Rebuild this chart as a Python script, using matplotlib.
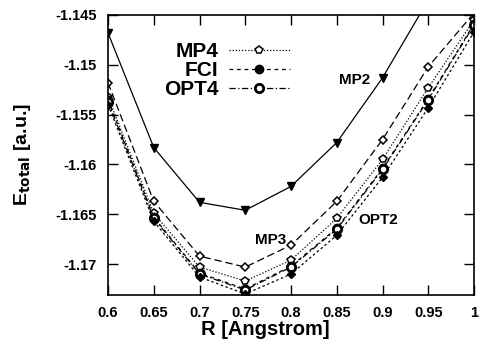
import numpy as np
import matplotlib
matplotlib.use("Agg")
import matplotlib.pyplot as plt

plt.rcParams['font.family'] = ['Liberation Sans', 'DejaVu Sans']
plt.rcParams['font.weight'] = 'bold'
plt.rcParams['mathtext.default'] = 'bf'

# Data
R = [0.6, 0.65, 0.7, 0.75, 0.8, 0.85, 0.9, 0.95, 1.0]
mp2 = [-1.1468, -1.1583, -1.1638, -1.1646, -1.1622, -1.1578, -1.1513, -1.1435, -1.1350]
mp3 = [-1.1518, -1.1637, -1.1692, -1.1703, -1.1681, -1.1637, -1.1575, -1.1502, -1.1448]
mp4 = [-1.1532, -1.1649, -1.1703, -1.1717, -1.1696, -1.1654, -1.1595, -1.1523, -1.1455]
fci = [-1.1535, -1.1653, -1.1709, -1.1725, -1.1702, -1.1664, -1.1604, -1.1534, -1.1459]
opt4 = [-1.1537, -1.1654, -1.1710, -1.1726, -1.1703, -1.1665, -1.1605, -1.1535, -1.1460]
opt2 = [-1.1540, -1.1657, -1.1713, -1.1730, -1.1710, -1.1671, -1.1613, -1.1543, -1.1467]

xticks = [0.6, 0.65, 0.7, 0.75, 0.8, 0.85, 0.9, 0.95, 1.0]
xtick_labels = ["0.6", "0.65", "0.7", "0.75", "0.8", "0.85", "0.9", "0.95", "1"]
yticks = [-1.17, -1.165, -1.16, -1.155, -1.15, -1.145]
ytick_labels = ["-1.17", "-1.165", "-1.16", "-1.155", "-1.15", "-1.145"]

fig = plt.figure(figsize=(4.79, 3.47), dpi=100)
ax = fig.add_axes([0.2255, 0.1499, 0.7641, 0.8069])

lw = 0.9
ax.plot(R, mp2, color="black", lw=lw, ls="-", marker="v", ms=5.5,
        mfc="black", mec="black")
ax.plot(R, mp3, color="black", lw=lw, ls=(0, (6, 3)), marker="D", ms=4.5,
        mfc="white", mec="black", mew=1.1)
ax.plot(R, mp4, color="black", lw=lw, ls=(0, (1, 1.5)), marker="p", ms=6,
        mfc="white", mec="black", mew=1.1, label="MP4")
ax.plot(R, fci, color="black", lw=lw, ls=(0, (3, 3)), marker="o", ms=6,
        mfc="black", mec="black", label="FCI")
ax.plot(R, opt4, color="black", lw=lw, ls=(0, (5, 2, 1, 2)), marker="o", ms=6,
        mfc="white", mec="black", mew=2.0, label="OPT4")
ax.plot(R, opt2, color="black", lw=lw, ls=(0, (2, 2)), marker="D", ms=4.5,
        mfc="black", mec="black")

ax.text(0.869, -1.1515, "MP2", fontsize=11, fontweight="bold", ha="center", va="center")
ax.text(0.778, -1.1676, "MP3", fontsize=11, fontweight="bold", ha="center", va="center")
ax.text(0.895, -1.1656, "OPT2", fontsize=11, fontweight="bold", ha="center", va="center")

leg = ax.legend(loc="upper left", bbox_to_anchor=(0.125, 0.94), frameon=False,
                markerfirst=False, fontsize=15, handlelength=2.9,
                labelspacing=0.0, handletextpad=0.5, borderpad=0.0)
for t in leg.get_texts():
    t.set_fontweight("bold")

ax.set_xlim(0.6, 1.0)
ax.set_ylim(-1.1731, -1.145)
ax.set_xticks(xticks)
ax.set_xticklabels(xtick_labels)
ax.set_yticks(yticks)
ax.set_yticklabels(ytick_labels)
ax.tick_params(direction="in", length=7, width=1, top=True, right=True,
               labelsize=10.5, pad=8)
for lab in ax.get_xticklabels() + ax.get_yticklabels():
    lab.set_fontweight("bold")
for s in ax.spines.values():
    s.set_linewidth(1.2)

ax.set_xlabel("R [Angstrom]", fontsize=14.5, fontweight="bold")
ax.xaxis.set_label_coords(0.43, -0.09)
ax.set_ylabel(r"E$_{\mathbf{total}}$ [a.u.]", fontsize=14, fontweight="bold")
ax.yaxis.set_label_coords(-0.205, 0.5)

fig.savefig("out.png", dpi=100)
